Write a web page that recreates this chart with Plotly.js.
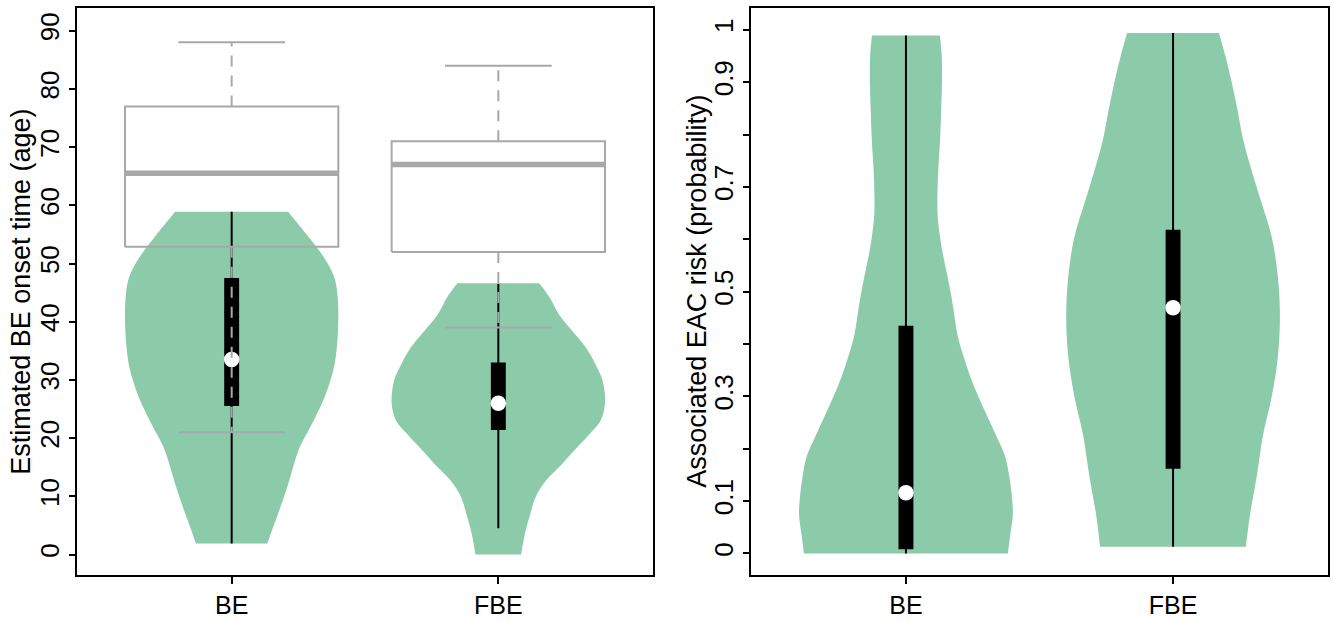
<!DOCTYPE html>
<html>
<head>
<meta charset="utf-8">
<script src="https://cdn.plot.ly/plotly-3.0.1.min.js"></script>
<style>html,body{margin:0;padding:0;background:#fff;}#chart{width:1333px;height:622px;}</style>
</head>
<body>
<div id="chart"></div>
<script>
// ---------- data ----------
const groups = ['BE', 'FBE'];
const groupPos = [1, 2];

// Left panel: estimated BE onset age - boxplot (grey)
const ageBoxLow = [21, 39];
const ageBoxQ1 = [52.9, 52];
const ageBoxMedian = [65.5, 67];
const ageBoxQ3 = [77, 71];
const ageBoxHigh = [88, 84];

// Left panel: violin summaries
const ageVioLow = [1.9, 4.5];
const ageVioQ1 = [25.5, 21.4];
const ageVioMedian = [33.5, 26];
const ageVioQ3 = [47.5, 33];
const ageVioHigh = [58.9, 46.5];

// Left panel: violin density outlines (relative density at each age level)
const ageLevelsBE = [1.9, 4.5, 7.1, 9.9, 12.7, 15.6, 18.5, 21.3, 24.2, 27, 29.9, 32.7, 35.6, 38.5, 41.4, 44, 47, 49.2, 52, 54.9, 58.9];
const ageDensBE   = [0.335, 0.385, 0.437, 0.49, 0.54, 0.585, 0.64, 0.72, 0.80, 0.87, 0.926, 0.965, 0.986, 0.997, 1.0, 0.995, 0.972, 0.925, 0.83, 0.707, 0.53];
const ageLevelsFBE = [0, 3.6, 7.0, 9.9, 12.7, 15.6, 18.5, 21, 23.0, 25.9, 29.9, 32.7, 35.6, 38.5, 41.3, 44.2, 46.6];
const ageDensFBE   = [0.214, 0.25, 0.30, 0.35, 0.447, 0.60, 0.744, 0.87, 0.958, 1.0, 0.977, 0.91, 0.819, 0.69, 0.567, 0.48, 0.384];

// Right panel: associated EAC risk - violin summaries
const riskVioLow = [0, 0.013];
const riskVioQ1 = [0.008, 0.162];
const riskVioMedian = [0.116, 0.469];
const riskVioQ3 = [0.435, 0.618];
const riskVioHigh = [0.989, 0.994];

const riskLevelsBE = [0, 0.036, 0.074, 0.112, 0.15, 0.187, 0.225, 0.263, 0.301, 0.339, 0.376, 0.414, 0.452, 0.49, 0.528, 0.565, 0.603, 0.649, 0.72, 0.792, 0.85, 0.906, 0.95, 0.989];
const riskDensBE   = [0.954, 0.977, 1.0, 0.99, 0.965, 0.926, 0.845, 0.759, 0.675, 0.60, 0.54, 0.486, 0.455, 0.426, 0.39, 0.352, 0.32, 0.296, 0.30, 0.32, 0.33, 0.338, 0.335, 0.318];
const riskLevelsFBE = [0.013, 0.074, 0.15, 0.225, 0.301, 0.376, 0.452, 0.528, 0.603, 0.679, 0.735, 0.792, 0.85, 0.906, 0.95, 0.994];
const riskDensFBE   = [0.682, 0.72, 0.785, 0.841, 0.925, 0.981, 1.0, 0.981, 0.925, 0.813, 0.73, 0.654, 0.60, 0.542, 0.49, 0.43];

const ageTicks = [0, 10, 20, 30, 40, 50, 60, 70, 80, 90];
const riskTicks = [0, 0.1, 0.2, 0.3, 0.4, 0.5, 0.6, 0.7, 0.8, 0.9, 1];
const riskTickText = ['0', '0.1', '', '0.3', '', '0.5', '', '0.7', '', '0.9', '1'];

// ---------- styles ----------
const GREEN = 'rgb(140,203,169)';
const GREY = '#a8a8a8';
const VIO_HALF = 0.4;
const RECT_HALF = 0.028;
const BOX_HALF = 0.4;
const CAP_HALF = 0.2;
const FONT = 'Liberation Sans, Arial, Helvetica, sans-serif';

const traces = [];

function violin(center, levels, dens, xa, ya) {
  const xs = [], ys = [];
  const n = levels.length;
  xs.push(center - VIO_HALF * dens[0]); ys.push(levels[0]);
  for (let i = 0; i < n; i++) { xs.push(center - VIO_HALF * dens[i]); ys.push(levels[i]); }
  xs.push(center - VIO_HALF * dens[n - 1]); ys.push(levels[n - 1]);
  xs.push(center + VIO_HALF * dens[n - 1]); ys.push(levels[n - 1]);
  for (let i = n - 1; i >= 0; i--) { xs.push(center + VIO_HALF * dens[i]); ys.push(levels[i]); }
  xs.push(center + VIO_HALF * dens[0]); ys.push(levels[0]);
  traces.push({type: 'scatter', mode: 'lines', x: xs, y: ys, fill: 'toself', fillcolor: GREEN,
    line: {width: 0, color: GREEN, shape: 'spline', smoothing: 1, simplify: false},
    xaxis: xa, yaxis: ya, hoverinfo: 'skip'});
}
function vioInner(i, low, q1, med, q3, high, xa, ya) {
  const c = groupPos[i];
  traces.push({type: 'scatter', mode: 'lines', x: [c, c], y: [low[i], high[i]],
    line: {color: 'black', width: 2}, xaxis: xa, yaxis: ya, hoverinfo: 'skip'});
  traces.push({type: 'scatter', mode: 'lines', x: [c - RECT_HALF, c + RECT_HALF, c + RECT_HALF, c - RECT_HALF, c - RECT_HALF],
    y: [q1[i], q1[i], q3[i], q3[i], q1[i]], fill: 'toself', fillcolor: 'black',
    line: {color: 'black', width: 0}, xaxis: xa, yaxis: ya, hoverinfo: 'skip'});
  traces.push({type: 'scatter', mode: 'markers', x: [c], y: [med[i]],
    marker: {color: 'white', size: 15.5, line: {width: 0}}, xaxis: xa, yaxis: ya, hoverinfo: 'skip'});
}

violin(groupPos[0], ageLevelsBE, ageDensBE, 'x', 'y');
violin(groupPos[1], ageLevelsFBE, ageDensFBE, 'x', 'y');
violin(groupPos[0], riskLevelsBE, riskDensBE, 'x2', 'y2');
violin(groupPos[1], riskLevelsFBE, riskDensFBE, 'x2', 'y2');
for (let i = 0; i < groups.length; i++) {
  vioInner(i, ageVioLow, ageVioQ1, ageVioMedian, ageVioQ3, ageVioHigh, 'x', 'y');
  vioInner(i, riskVioLow, riskVioQ1, riskVioMedian, riskVioQ3, riskVioHigh, 'x2', 'y2');
}

for (let i = 0; i < groups.length; i++) {
  const c = groupPos[i];
  traces.push({type: 'scatter', mode: 'lines', x: [c, c], y: [ageBoxQ3[i], ageBoxHigh[i]],
    line: {color: GREY, width: 2, dash: '11px,9px'}, xaxis: 'x', yaxis: 'y', hoverinfo: 'skip'});
  traces.push({type: 'scatter', mode: 'lines', x: [c, c], y: [ageBoxQ1[i], ageBoxLow[i]],
    line: {color: GREY, width: 2, dash: '11px,9px'}, xaxis: 'x', yaxis: 'y', hoverinfo: 'skip'});
  traces.push({type: 'scatter', mode: 'lines', x: [c - CAP_HALF, c + CAP_HALF], y: [ageBoxHigh[i], ageBoxHigh[i]],
    line: {color: GREY, width: 2}, xaxis: 'x', yaxis: 'y', hoverinfo: 'skip'});
  traces.push({type: 'scatter', mode: 'lines', x: [c - CAP_HALF, c + CAP_HALF], y: [ageBoxLow[i], ageBoxLow[i]],
    line: {color: GREY, width: 2}, xaxis: 'x', yaxis: 'y', hoverinfo: 'skip'});
  traces.push({type: 'scatter', mode: 'lines',
    x: [c - BOX_HALF, c + BOX_HALF, c + BOX_HALF, c - BOX_HALF, c - BOX_HALF],
    y: [ageBoxQ1[i], ageBoxQ1[i], ageBoxQ3[i], ageBoxQ3[i], ageBoxQ1[i]],
    line: {color: GREY, width: 2}, xaxis: 'x', yaxis: 'y', hoverinfo: 'skip'});
  traces.push({type: 'scatter', mode: 'lines', x: [c - BOX_HALF, c + BOX_HALF], y: [ageBoxMedian[i], ageBoxMedian[i]],
    line: {color: GREY, width: 5.5}, xaxis: 'x', yaxis: 'y', hoverinfo: 'skip'});
}

const commonX = {range: [0.42, 2.58], tickvals: groupPos, ticktext: groups, showline: true, mirror: true,
  linecolor: 'black', linewidth: 2, ticks: 'outside', ticklen: 7, tickwidth: 2, tickcolor: 'black',
  showgrid: false, zeroline: false, tickfont: {size: 25, color: 'black', family: FONT}, fixedrange: true};
const commonY = {showline: true, mirror: true, linecolor: 'black', linewidth: 2, ticks: 'outside', ticklen: 6,
  tickwidth: 2, tickcolor: 'black', showgrid: false, zeroline: false, tickangle: -90,
  tickfont: {size: 26, color: 'black', family: FONT}, fixedrange: true, domain: [0.0748, 0.9871]};

const layout = {
  width: 1333, height: 622, margin: {l: 0, r: 0, t: 0, b: 0},
  paper_bgcolor: 'white', plot_bgcolor: 'white', showlegend: false,
  font: {family: FONT, color: 'black'},
  xaxis: Object.assign({}, commonX, {domain: [77 / 1333, 653 / 1333], anchor: 'y'}),
  yaxis: Object.assign({}, commonY, {range: [-3.6, 93.9], tickvals: ageTicks, anchor: 'x'}),
  xaxis2: Object.assign({}, commonX, {domain: [751 / 1333, 1328 / 1333], anchor: 'y2'}),
  yaxis2: Object.assign({}, commonY, {range: [-0.042, 1.0415], tickvals: riskTicks, ticktext: riskTickText, anchor: 'x2'}),
  annotations: [
    {text: 'Estimated BE onset time (age)', xref: 'paper', yref: 'paper', x: 21 / 1333, y: 0.531,
     xanchor: 'center', yanchor: 'middle', textangle: -90, showarrow: false, font: {size: 27, color: 'black', family: FONT}},
    {text: 'Associated EAC risk (probability)', xref: 'paper', yref: 'paper', x: 697 / 1333, y: 0.531,
     xanchor: 'center', yanchor: 'middle', textangle: -90, showarrow: false, font: {size: 27, color: 'black', family: FONT}}
  ]
};

Plotly.newPlot('chart', traces, layout, {displayModeBar: false, staticPlot: true});
</script>
</body>
</html>
